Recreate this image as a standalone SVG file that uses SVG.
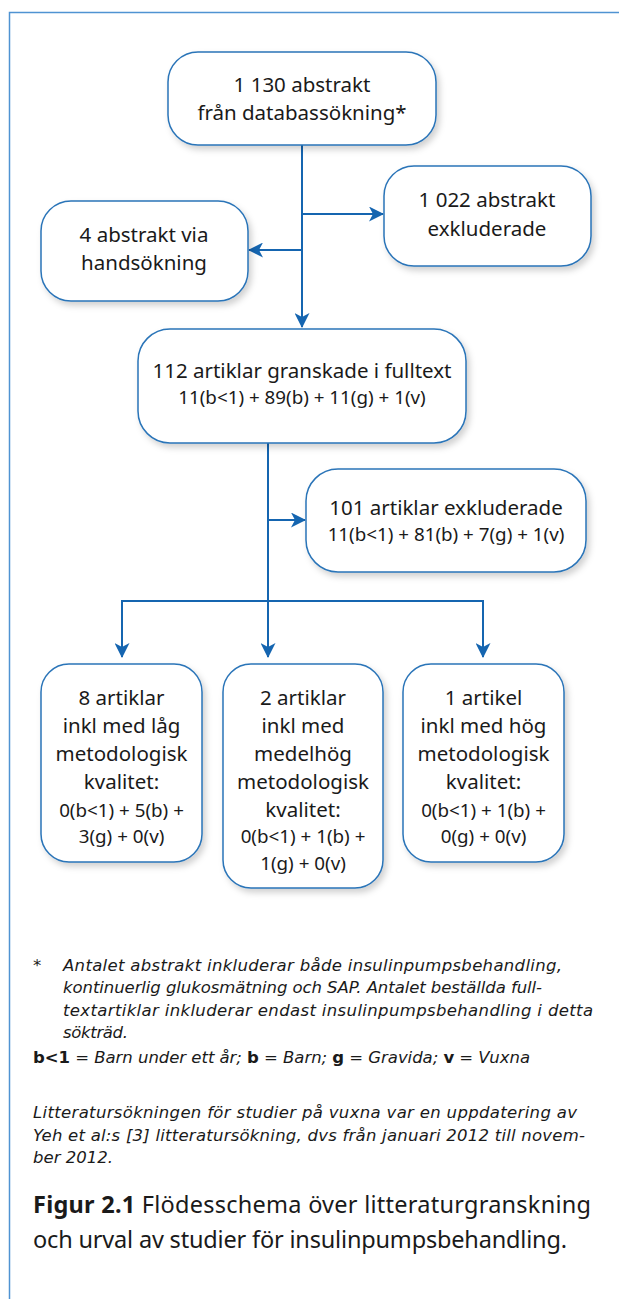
<svg xmlns="http://www.w3.org/2000/svg" width="619" height="1299" viewBox="0 0 619 1299">
<defs>
<filter id="sh" x="-10%" y="-10%" width="125%" height="130%">
<feDropShadow dx="3" dy="4" stdDeviation="3" flood-color="#000" flood-opacity="0.18"/>
</filter>
<marker id="ah" viewBox="0 0 15 15" refX="14" refY="7.5" markerWidth="15" markerHeight="15" markerUnits="userSpaceOnUse" orient="auto">
<path d="M0,0 L15,7.5 L0,15 L4,7.5 Z" fill="#1565b0"/>
</marker>
<style>
.box{fill:#fff;stroke:#2a74b8;stroke-width:1.5;filter:url(#sh)}
.t{font-family:"Noto Sans","Liberation Sans",sans-serif;font-size:20.5px;fill:#1a1a1a;text-anchor:middle}
.s{font-family:"Noto Sans","Liberation Sans",sans-serif;font-size:18.8px;fill:#1a1a1a;text-anchor:middle}
.fn{font-family:"DejaVu Sans","Noto Sans",sans-serif;font-size:16.5px;font-style:italic;fill:#1a1a1a}
.b{font-style:normal;font-weight:bold}
.cap{font-family:"Noto Sans","Liberation Sans",sans-serif;font-size:23.5px;fill:#1a1a1a}
.con{fill:none;stroke:#1565b0;stroke-width:2}
.frame{fill:none;stroke:#4f93d2;stroke-width:1.5}
</style>
</defs>
<path class="frame" d="M9.5,1299 V12.5 H619"/>
<g id="connectors">
<path class="con" d="M302,145 V327" marker-end="url(#ah)"/>
<path class="con" d="M302,214 H383" marker-end="url(#ah)"/>
<path class="con" d="M302,250 H249" marker-end="url(#ah)"/>
<path class="con" d="M268,443 V657" marker-end="url(#ah)"/>
<path class="con" d="M268,520 H305" marker-end="url(#ah)"/>
<path class="con" d="M122,657 V601 H483 V657" marker-end="url(#ah)"/>
<path class="con" d="M122,601 V657" marker-end="url(#ah)"/>
</g>
<g id="n1">
<rect class="box" x="168" y="52" width="268" height="93" rx="30"/>
<text class="t" x="302" y="92">1 130 abstrakt</text>
<text class="t" x="302" y="120">från databassökning*</text>
</g>
<g id="n2">
<rect class="box" x="384" y="166" width="207" height="100" rx="30"/>
<text class="t" x="487" y="207">1 022 abstrakt</text>
<text class="t" x="487" y="236">exkluderade</text>
</g>
<g id="n3">
<rect class="box" x="41" y="201" width="207" height="100" rx="30"/>
<text class="t" x="144" y="242">4 abstrakt via</text>
<text class="t" x="144" y="270">handsökning</text>
</g>
<g id="n4">
<rect class="box" x="138" y="329" width="328" height="114" rx="32"/>
<text class="t" x="302" y="378">112 artiklar granskade i fulltext</text>
<text class="s" x="302" y="404">11(b&lt;1) + 89(b) + 11(g) + 1(v)</text>
</g>
<g id="n5">
<rect class="box" x="306" y="469" width="280" height="103" rx="32"/>
<text class="t" x="446" y="515">101 artiklar exkluderade</text>
<text class="s" x="446" y="541">11(b&lt;1) + 81(b) + 7(g) + 1(v)</text>
</g>
<g id="n6">
<rect class="box" x="41" y="664" width="161" height="198" rx="28"/>
<text class="t" x="121.5" y="705">8 artiklar</text>
<text class="t" x="121.5" y="733">inkl med låg</text>
<text class="t" x="121.5" y="761">metodologisk</text>
<text class="t" x="121.5" y="789">kvalitet:</text>
<text class="s" x="121.5" y="817">0(b&lt;1) + 5(b) +</text>
<text class="s" x="121.5" y="843">3(g) + 0(v)</text>
</g>
<g id="n7">
<rect class="box" x="223" y="664" width="160" height="224" rx="28"/>
<text class="t" x="303" y="705">2 artiklar</text>
<text class="t" x="303" y="733">inkl med</text>
<text class="t" x="303" y="761">medelhög</text>
<text class="t" x="303" y="789">metodologisk</text>
<text class="t" x="303" y="817">kvalitet:</text>
<text class="s" x="303" y="843">0(b&lt;1) + 1(b) +</text>
<text class="s" x="303" y="870">1(g) + 0(v)</text>
</g>
<g id="n8">
<rect class="box" x="403" y="664" width="161" height="198" rx="28"/>
<text class="t" x="483.5" y="705">1 artikel</text>
<text class="t" x="483.5" y="733">inkl med hög</text>
<text class="t" x="483.5" y="761">metodologisk</text>
<text class="t" x="483.5" y="789">kvalitet:</text>
<text class="s" x="483.5" y="817">0(b&lt;1) + 1(b) +</text>
<text class="s" x="483.5" y="843">0(g) + 0(v)</text>
</g>
<g id="notes">
<text class="fn" x="33" y="971">*</text>
<text class="fn" x="63" y="971" textLength="499" lengthAdjust="spacing">Antalet abstrakt inkluderar både insulinpumpsbehandling,</text>
<text class="fn" x="63" y="993" textLength="479" lengthAdjust="spacing">kontinuerlig glukosmätning och SAP. Antalet beställda full-</text>
<text class="fn" x="63" y="1016" textLength="530" lengthAdjust="spacing">textartiklar inkluderar endast insulinpumpsbehandling i detta</text>
<text class="fn" x="63" y="1038" textLength="65" lengthAdjust="spacing">sökträd.</text>
<text class="fn" x="33" y="1063" textLength="497" lengthAdjust="spacing"><tspan class="b">b&lt;1</tspan> = Barn under ett år; <tspan class="b">b</tspan> = Barn; <tspan class="b">g</tspan> = Gravida; <tspan class="b">v</tspan> = Vuxna</text>
<text class="fn" x="33" y="1118" textLength="544" lengthAdjust="spacing">Litteratursökningen för studier på vuxna var en uppdatering av</text>
<text class="fn" x="33" y="1141" textLength="552" lengthAdjust="spacing">Yeh et al:s [3] litteratursökning, dvs från januari 2012 till novem-</text>
<text class="fn" x="33" y="1163" textLength="80" lengthAdjust="spacing">ber 2012.</text>
<text class="cap" x="33" y="1213" textLength="558" lengthAdjust="spacing"><tspan font-weight="bold">Figur 2.1</tspan> Flödesschema över litteraturgranskning</text>
<text class="cap" x="33" y="1248" textLength="534" lengthAdjust="spacing">och urval av studier för insulinpumpsbehandling.</text>
</g>
</svg>
